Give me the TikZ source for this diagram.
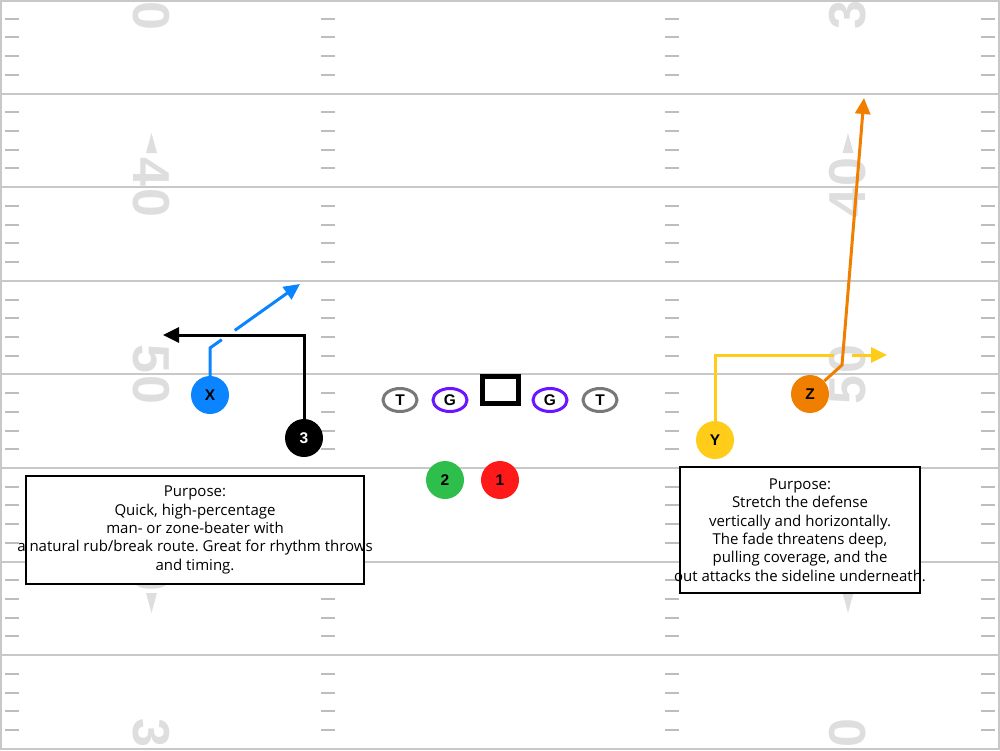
\documentclass[tikz,border=0pt]{standalone}
\usepackage{fontspec}
\setmainfont{Open Sans}
\newfontfamily\playerfont{Liberation Sans}
\usetikzlibrary{shapes.geometric, arrows.meta, calc}
\frenchspacing

\definecolor{fieldline}{HTML}{C8C8C8}
\definecolor{hashgray}{HTML}{BDBDBD}
\definecolor{numgray}{HTML}{DEDEDE}
\definecolor{xblue}{HTML}{0A84FF}
\definecolor{zorange}{HTML}{F07F00}
\definecolor{yyellow}{HTML}{FFCC1A}
\definecolor{backgreen}{HTML}{2DBE4B}
\definecolor{qbred}{HTML}{FF1A1A}
\definecolor{guardpurple}{HTML}{6A14FF}
\definecolor{tackgray}{HTML}{787878}

\begin{document}
\begin{tikzpicture}[x=1pt,y=-1pt,>={Triangle[length=16pt,width=15pt]},
  player/.style={circle,minimum size=38pt,inner sep=0pt,font=\playerfont\bfseries\fontsize{15.5}{15.5}\selectfont},
  lineman/.style={ellipse,draw,line width=3pt,fill=white,minimum width=34pt,minimum height=23pt,inner sep=0pt,font=\playerfont\bfseries\fontsize{15.5}{15.5}\selectfont},
  route/.style={line width=3pt},
  yardnum/.style={text=numgray,font=\playerfont\bfseries\fontsize{52}{52}\selectfont,inner sep=0pt},
  purposebox/.style={draw,line width=2pt,fill=white,inner sep=0pt},
  purposetext/.style={align=center,font=\fontsize{15}{18.3}\selectfont,inner sep=0pt}]
\useasboundingbox (0,0) rectangle (1000,750);

% field: hash marks, yard lines, border
\foreach \b in {0,...,7}
  \foreach \t in {1,...,4}
    \foreach \hx in {5,321,665,981}
      \draw[hashgray,line width=2pt] (\hx,\b*93.6+\t*18.72) -- ++(14,0);
\foreach \k in {1,...,7}
  \draw[fieldline,line width=2pt] (0,\k*93.6) -- (1000,\k*93.6);
\draw[fieldline,line width=2pt] (1,1) rectangle (999,749);

% yard numbers
\foreach \yy/\a/\b [count=\i] in {0/3/0,187.2/4/0,374.4/5/0,561.6/4/0,748.8/3/0} {
  \node[yardnum,rotate=-90] (numLa\i) at (151,\yy-15.5) {\a};
  \node[yardnum,rotate=-90] (numLb\i) at (151,\yy+15.5) {\b};
  \node[yardnum,rotate=90] (numRa\i) at (848,\yy+15.5) {\a};
  \node[yardnum,rotate=90] (numRb\i) at (848,\yy-15.5) {\b};
}
\foreach \hx in {151.5,848} {
  \fill[numgray] (\hx,133) -- (\hx+5.5,153) -- (\hx-5.5,153) -- cycle;
  \fill[numgray] (\hx,613) -- (\hx+5.5,593) -- (\hx-5.5,593) -- cycle;
}

% offensive line
\node[lineman,draw=tackgray] (LT) at (400,400) {T};
\node[lineman,draw=guardpurple] (LG) at (450,400) {G};
\node[draw,line width=5pt,fill=white,minimum width=36pt,minimum height=27pt,inner sep=0pt] (C) at (500.5,390) {};
\node[lineman,draw=guardpurple] (RG) at (550,400) {G};
\node[lineman,draw=tackgray] (RT) at (600,400) {T};

% skill players
\node[player,fill=xblue] (X) at (210,395) {X};
\node[player,fill=black,text=white] (S) at (304,438) {3};
\node[player,fill=backgreen] (B2) at (445,480) {2};
\node[player,fill=qbred] (B1) at (500,480) {1};
\node[player,fill=yyellow] (Y) at (715,440) {Y};
\node[player,fill=zorange] (Z) at (810,394) {Z};

% X route, broken where the 3 route crosses
\coordinate (xcut) at (210,348);
\coordinate (xend) at (300,284);
\coordinate (xcross) at (228.3,335);
\draw[route,xblue] (X) -- (xcut) -- ($(xcross)!8pt!(xcut)$);
\draw[route,xblue,->] ($(xcross)!8pt!(xend)$) -- (xend);

% 3 route
\coordinate (scut) at (304,335);
\coordinate (send) at (163,335);
\draw[route,->] (S) -- (scut) -- (send);

% Y route, broken where the fade crosses
\coordinate (ycut) at (715,355);
\coordinate (yend) at (887,355);
\coordinate (ycross) at (843,355);
\draw[route,yyellow] (Y) -- (ycut) -- ($(ycross)!9pt!(ycut)$);
\draw[route,yyellow,->] ($(ycross)!9pt!(yend)$) -- (yend);

% Z fade
\coordinate (zcut) at (842,365);
\coordinate (zend) at (864,98);
\draw[route,zorange,->] (Z) -- (zcut) -- (zend);

% purpose notes
\node[purposebox,minimum width=338pt,minimum height=108pt] (leftbox) at (195,530) {};
\node[purposetext] (lefttext) at (leftbox.center) {Purpose:\\Quick, high-percentage\\man- or zone-beater with\\a natural rub/break route. Great for rhythm throws\\and timing.};
\node[purposebox,minimum width=240pt,minimum height=126pt] (rightbox) at (800,530) {};
\node[purposetext] (righttext) at (rightbox.center) {Purpose:\\Stretch the defense\\vertically and horizontally.\\The fade threatens deep,\\pulling coverage, and the\\out attacks the sideline underneath.};
\end{tikzpicture}
\end{document}
